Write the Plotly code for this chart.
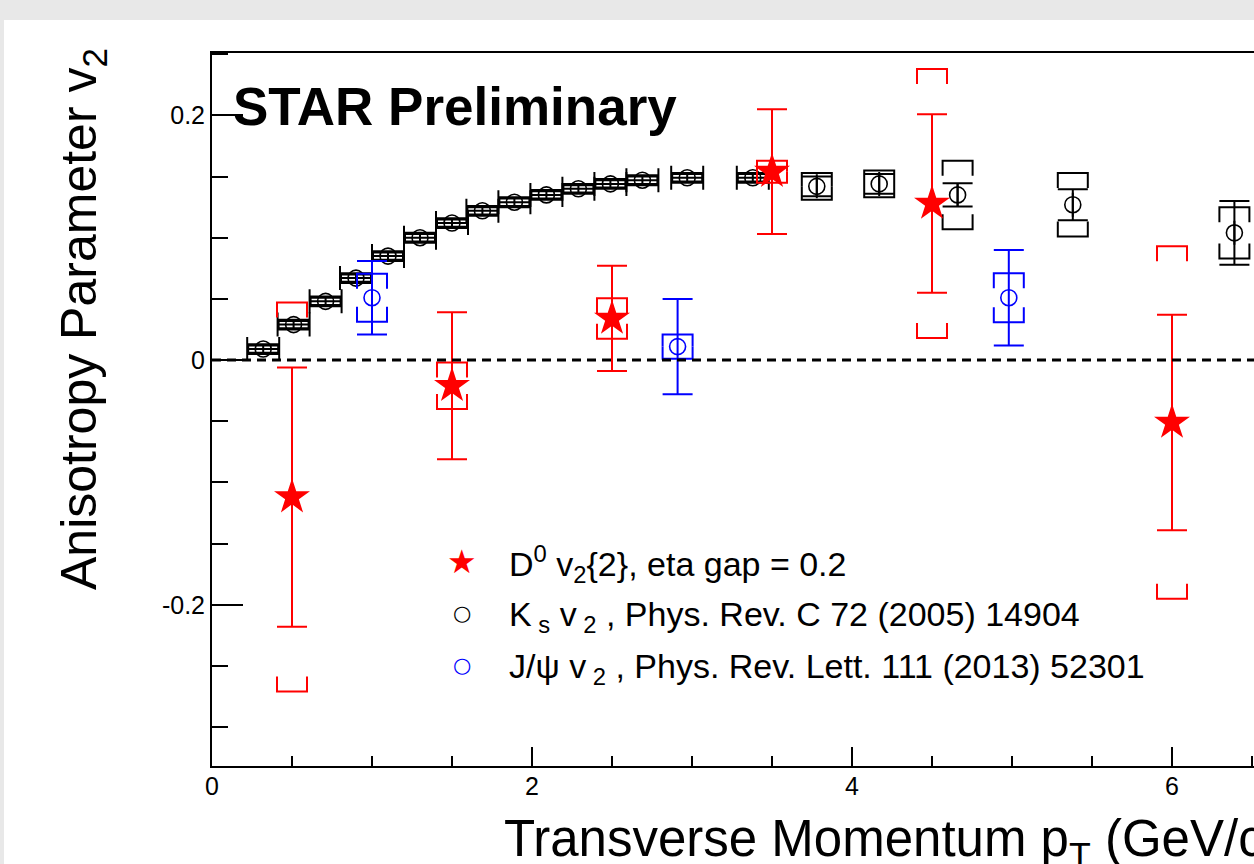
import plotly.graph_objects as go

# ---------------- data ----------------
# K_s v2 (Phys. Rev. C 72 (2005) 14904)
ks_pt = [0.32, 0.51, 0.71, 0.90, 1.10, 1.30, 1.50, 1.69, 1.89, 2.09, 2.29, 2.49, 2.69,
         2.97, 3.38, 3.78, 4.17, 4.66, 5.38, 6.39]
ks_v2 = [0.009, 0.029, 0.048, 0.067, 0.085, 0.100, 0.112, 0.122, 0.129, 0.135, 0.140,
         0.144, 0.147, 0.149, 0.149, 0.142, 0.144, 0.135, 0.127, 0.104]
ks_stat = [0.003, 0.003, 0.003, 0.003, 0.003, 0.003, 0.003, 0.003, 0.003, 0.003, 0.003,
           0.003, 0.003, 0.003, 0.003, 0.008, 0.008, 0.0095, 0.0127, 0.026]
ks_xerr = [0.1, 0.1, 0.1, 0.1, 0.1, 0.1, 0.1, 0.1, 0.1, 0.1, 0.1, 0.1, 0.1, 0.1, 0.1,
           0.0, 0.0, 0.0, 0.0, 0.0]
ks_sys = [0.004, 0.004, 0.004, 0.004, 0.004, 0.004, 0.004, 0.004, 0.004, 0.004, 0.004,
          0.004, 0.004, 0.004, 0.004, 0.011, 0.011, 0.028, 0.026, 0.021]

# D0 v2{2}, eta gap = 0.2
d0_pt = [0.5, 1.5, 2.5, 3.5, 4.5, 6.0]
d0_v2 = [-0.112, -0.021, 0.034, 0.154, 0.128, -0.051]
d0_stat = [0.106, 0.060, 0.043, 0.051, 0.073, 0.088]
d0_sys = [0.159, 0.019, 0.0165, 0.009, 0.110, 0.144]

# J/psi v2 (Phys. Rev. Lett. 111 (2013) 52301)
jpsi_pt = [1.0, 2.91, 4.98]
jpsi_v2 = [0.051, 0.011, 0.051]
jpsi_stat = [0.030, 0.039, 0.039]
jpsi_sys = [0.0196, 0.010, 0.020]

legend_labels = [
    "D<sup>0</sup> v<sub>2</sub>{2}, eta gap = 0.2",
    "K<sub> s</sub> v<sub> 2</sub> , Phys. Rev. C 72 (2005) 14904",
    "J/ψ v<sub> 2</sub> , Phys. Rev. Lett. 111 (2013) 52301",
]

# ---------------- layout constants ----------------
W, H = 1254, 864
L, R, T, B = 212, 0, 53, 98
PW, PH = W - L - R, H - T - B
XR = [0.0, 6.5125]
YR = [-0.3318, 0.2510]
FONT = "Liberation Sans, Arial, Helvetica, sans-serif"
BR_HW = 15 / (PW / (XR[1] - XR[0]))     # bracket half width (15 px) in x units
BR_TICK = 15 / (PH / (YR[1] - YR[0]))   # bracket tick length (15 px) in y units


def px_x(p):
    return (p - L) / PW


def px_y(p):
    return (H - B - p) / PH


def brackets(xs, ys, ss):
    bx, by = [], []
    for x, y, s in zip(xs, ys, ss):
        t = min(BR_TICK, s)
        bx += [x - BR_HW, x - BR_HW, x + BR_HW, x + BR_HW, None,
               x - BR_HW, x - BR_HW, x + BR_HW, x + BR_HW, None]
        by += [y + s - t, y + s, y + s, y + s - t, None,
               y - s + t, y - s, y - s, y - s + t, None]
    return bx, by


fig = go.Figure()

series = [
    ("K_s", ks_pt, ks_v2, ks_stat, ks_sys, "black", "circle-open", 16, ks_xerr),
    ("J/psi", jpsi_pt, jpsi_v2, jpsi_stat, jpsi_sys, "#0000ff", "circle-open", 16, None),
    ("D0", d0_pt, d0_v2, d0_stat, d0_sys, "#ff0000", "star", 27, None),
]

for name, xs, ys, st, sy, col, sym, size, xe in series:
    bx, by = brackets(xs, ys, sy)
    fig.add_trace(go.Scatter(x=bx, y=by, mode="lines", line=dict(color=col, width=2),
                             showlegend=False, hoverinfo="skip"))
    err_x = None
    if xe is not None:
        err_x = dict(type="data", array=xe, symmetric=True, color=col, thickness=2, width=12)
    fig.add_trace(go.Scatter(
        x=xs, y=ys, mode="markers", name=name, showlegend=False,
        marker=dict(symbol=sym, size=size, color=col,
                    line=dict(color=col, width=1.6 if "open" in sym else 0)),
        error_y=dict(type="data", array=st, symmetric=True, color=col, thickness=2, width=15),
        error_x=err_x,
    ))

# zero line
fig.add_shape(type="line", xref="paper", yref="y", x0=0, x1=1, y0=0, y1=0,
              line=dict(color="black", width=3, dash="9px,6px"), layer="above")

# grey canvas border (outside the white canvas)
fig.add_shape(type="rect", xref="paper", yref="paper", x0=px_x(0), x1=px_x(W),
              y0=px_y(20), y1=px_y(0), fillcolor="#e8e8e8", line=dict(width=0), layer="above")
fig.add_shape(type="rect", xref="paper", yref="paper", x0=px_x(0), x1=px_x(4),
              y0=px_y(H), y1=px_y(0), fillcolor="#e8e8e8", line=dict(width=0), layer="above")

annotations = [
    dict(text="<b>STAR Preliminary</b>", x=px_x(231), y=px_y(106), xanchor="left",
         yanchor="middle", font=dict(family=FONT, size=53, color="black")),
    dict(text="Transverse Momentum p<sub>T</sub> (GeV/c)", x=px_x(502), y=px_y(843),
         xanchor="left", yanchor="middle", font=dict(family=FONT, size=51, color="black")),
    dict(text="Anisotropy Parameter v<sub>2</sub>", x=px_x(82), y=px_y(46), textangle=-90,
         xanchor="center", yanchor="top", font=dict(family=FONT, size=50, color="black")),
]

leg_syms = [("★", "#ff0000", 33), ("○", "black", 21), ("○", "#0000ff", 21)]
leg_rows = [561, 613, 665]
for (g, c, s), lab, ry in zip(leg_syms, legend_labels, leg_rows):
    annotations.append(dict(text=g, x=px_x(462), y=px_y(ry), xanchor="center", yanchor="middle",
                            font=dict(family="DejaVu Sans", size=s, color=c)))
    annotations.append(dict(text=lab, x=px_x(507), y=px_y(ry + 3), xanchor="left",
                            yanchor="middle", font=dict(family=FONT, size=34, color="black")))

for a in annotations:
    a.update(xref="paper", yref="paper", showarrow=False)

fig.update_layout(
    width=W, height=H,
    margin=dict(l=L, r=R, t=T, b=B, pad=0),
    paper_bgcolor="white", plot_bgcolor="white",
    showlegend=False,
    annotations=annotations,
    font=dict(family=FONT, color="black"),
)
fig.update_xaxes(range=XR, showgrid=False, zeroline=False, showline=True, linecolor="black",
                 linewidth=2, mirror=True, ticks="inside", ticklen=19, tickwidth=1.5,
                 tickcolor="black", tickvals=[0, 2, 4, 6], ticktext=["0", "2", "4", "6"],
                 tickfont=dict(family=FONT, size=25), ticklabelstandoff=-3,
                 minor=dict(tickvals=[0.5, 1, 1.5, 2.5, 3, 3.5, 4.5, 5, 5.5, 6.5], ticks="inside",
                            ticklen=10, tickwidth=1.5, tickcolor="black"))
fig.update_yaxes(range=YR, showgrid=False, zeroline=False, showline=True, linecolor="black",
                 linewidth=2, mirror=False, ticks="inside", ticklen=31, tickwidth=1.5,
                 tickcolor="black", tickvals=[-0.2, 0, 0.2], ticktext=["-0.2", "0", "0.2"],
                 tickfont=dict(family=FONT, size=25),
                 minor=dict(tickvals=[-0.3, -0.25, -0.15, -0.1, -0.05, 0.05, 0.1, 0.15, 0.25],
                            ticks="inside", ticklen=16, tickwidth=1.5, tickcolor="black"))

fig.write_html("out.html")
